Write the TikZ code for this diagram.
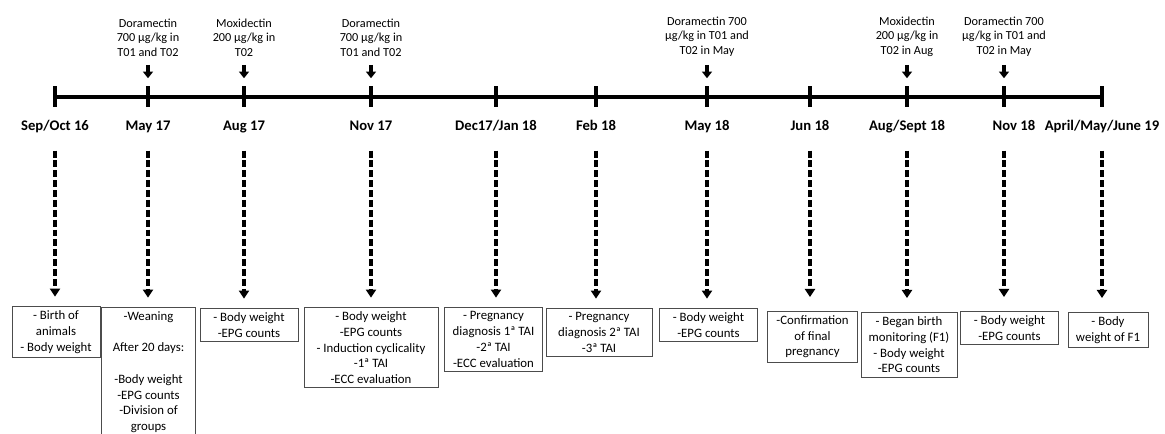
\documentclass[tikz,border=0pt]{standalone}
\usepackage{fontspec}
\setmainfont{Carlito}
\usetikzlibrary{arrows.meta,positioning}

\begin{document}
\begin{tikzpicture}[
    x=0.75pt, y=-0.75pt,
    font=\fontsize{9.6}{11.8}\selectfont,
    node distance=8.5pt,
    tickmark/.style={fill=black, inner sep=0pt, minimum width=3pt, minimum height=15.75pt},
    date/.style={font=\fontsize{11}{13}\selectfont\bfseries, inner sep=0pt, text height=8pt, text depth=2.5pt},
    drug/.style={align=center, inner sep=0pt, font=\fontsize{9.2}{11}\selectfont},
    event/.style={draw=black!70, line width=0.6pt, align=center, anchor=north, inner xsep=2pt, inner ysep=3.2pt},
    axis/.style={line width=3.5pt},
    dose/.style={-{Triangle[length=5pt, width=7.5pt]}, line width=2.4pt, shorten <=6pt, shorten >=6pt},
    link/.style={-{Triangle[length=6pt, width=7.5pt]}, line width=2.6pt, dash pattern=on 5.2pt off 2.2pt, shorten <=12.75pt, shorten >=7pt}
]
\useasboundingbox (0,0) rectangle (1165,434);

% timeline
\node[tickmark] (t1) at (55,97) {};
\node[tickmark] (t2) at (148,97) {};
\node[tickmark] (t3) at (244,97) {};
\node[tickmark] (t4) at (371,97) {};
\node[tickmark] (t5) at (496,97) {};
\node[tickmark] (t6) at (596,97) {};
\node[tickmark] (t7) at (707,97) {};
\node[tickmark] (t8) at (810,97) {};
\node[tickmark] (t9) at (907,97) {};
\node[tickmark] (t10) at (1004,97) {};
\node[tickmark] (t11) at (1102,97) {};
\draw[axis] (t1) -- (t11);

% dates
\node[date, below=of t1] (d1) {Sep/Oct 16};
\node[date, below=of t2] (d2) {May 17};
\node[date, below=of t3] (d3) {Aug 17};
\node[date, below=of t4] (d4) {Nov 17};
\node[date, below=of t5] (d5) {Dec17/Jan 18};
\node[date, below=of t6] (d6) {Feb 18};
\node[date, below=of t7] (d7) {May 18};
\node[date, below=of t8] (d8) {Jun 18};
\node[date, below=of t9] (d9) {Aug/Sept 18};
\node[date, below=of t10, xshift=7.5pt] (d10) {Nov 18};
\node[date, below=of t11] (d11) {April/May/June 19};

% treatments
\node[drug, above=22pt of t2] (a2) {Doramectin\\700 µg/kg in\\T01 and T02};
\node[drug, above=22pt of t3] (a3) {Moxidectin\\200 µg/kg in\\T02};
\node[drug, above=22pt of t4] (a4) {Doramectin\\700 µg/kg in\\T01 and T02};
\node[drug, above=22pt of t7] (a7) {Doramectin 700\\µg/kg in T01 and\\T02 in May};
\node[drug, above=22pt of t9] (a9) {Moxidectin\\200 µg/kg in\\T02 in Aug};
\node[drug, above=22pt of t10] (a10) {Doramectin 700\\µg/kg in T01 and\\T02 in May};

\draw[dose] (a2) -- (t2);
\draw[dose] (a3) -- (t3);
\draw[dose] (a4) -- (t4);
\draw[dose] (a7) -- (t7);
\draw[dose] (a9) -- (t9);
\draw[dose] (a10) -- (t10);

% events
\node[event, minimum width=66pt] (b1) at (56,306) {- Birth of\\animals\\- Body weight};
\node[event, minimum width=70pt] (b2) at (148.5,307) {-Weaning\\[11.8pt]After 20 days:\\[11.8pt]-Body weight\\-EPG counts\\-Division of\\groups};
\node[event, minimum width=73.5pt] (b3) at (249,308) {- Body weight\\-EPG counts};
\node[event, minimum width=100.5pt] (b4) at (371,307) {- Body weight\\-EPG counts\\- Induction cyclicality\\-1ª TAI\\-ECC evaluation};
\node[event, minimum width=73pt] (b5) at (493.5,307) {- Pregnancy\\diagnosis 1ª TAI\\-2ª TAI\\-ECC evaluation};
\node[event, minimum width=79.5pt] (b6) at (599,308) {- Pregnancy\\diagnosis 2ª TAI\\-3ª TAI};
\node[event, minimum width=74pt] (b7) at (708.5,308) {- Body weight\\-EPG counts};
\node[event, minimum width=68pt] (b8) at (812.5,311) {-Confirmation\\of final\\pregnancy};
\node[event, minimum width=72pt] (b9) at (909,312) {- Began birth\\monitoring (F1)\\- Body weight\\-EPG counts};
\node[event, minimum width=74pt] (b10) at (1009.5,311) {- Body weight\\-EPG counts};
\node[event, minimum width=60pt] (b11) at (1108,312) {- Body\\weight of F1};

\draw[link] (d1.south -| t1) -- (b1.north -| t1);
\draw[link] (d2.south -| t2) -- (b2.north -| t2);
\draw[link] (d3.south -| t3) -- (b3.north -| t3);
\draw[link] (d4.south -| t4) -- (b4.north -| t4);
\draw[link] (d5.south -| t5) -- (b5.north -| t5);
\draw[link] (d6.south -| t6) -- (b6.north -| t6);
\draw[link] (d7.south -| t7) -- (b7.north -| t7);
\draw[link, shorten >=10.5pt] (d8.south -| t8) -- (b8.north -| t8);
\draw[link, shorten >=10.5pt] (d9.south -| t9) -- (b9.north -| t9);
\draw[link, shorten >=10.5pt] (d10.south -| t10) -- (b10.north -| t10);
\draw[link, shorten >=10.5pt] (d11.south -| t11) -- (b11.north -| t11);
\end{tikzpicture}
\end{document}
